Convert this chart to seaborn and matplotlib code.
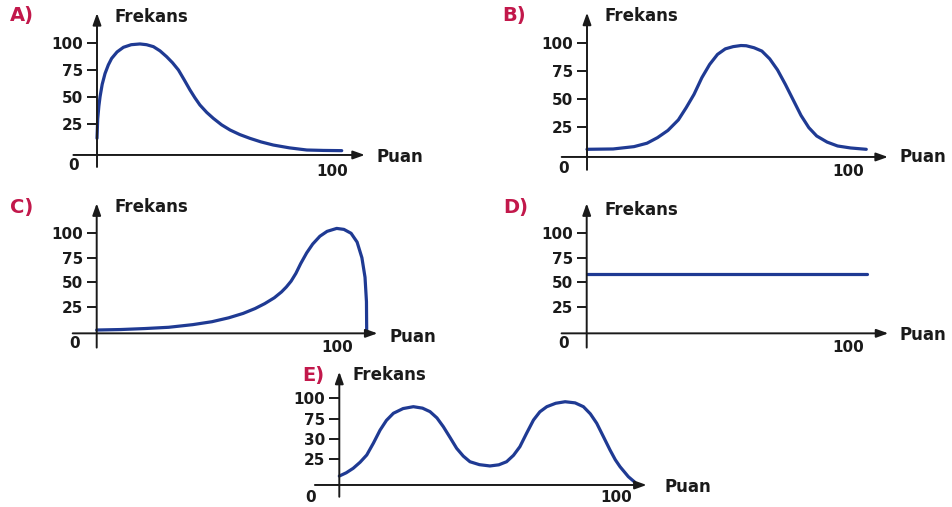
import matplotlib
matplotlib.use('Agg')
import matplotlib.pyplot as plt
import seaborn as sns

sns.set_style('white')
plt.rcParams['font.family'] = ['DejaVu Sans']
plt.rcParams['font.weight'] = 'bold'

# ==========================================
# 数据
# ==========================================
a_x = [0, 0.3, 0.8, 1.3, 2.2, 3.4, 4.8, 6.2, 8.5, 11.2, 14.5, 18.2, 21, 23.9, 26.7,
       29.5, 32, 34.5, 37, 39.4, 41.5, 43.6, 46.5, 49.3, 52.8, 56.4, 60.5, 64.8,
       69.5, 74.7, 81.5, 88.9, 96, 103.7]
a_y = [12, 30, 42, 50.6, 62, 72, 80, 86, 92, 96.3, 98.7, 99.4, 98.7, 96.9, 93,
       87.6, 82, 75.3, 66, 56.8, 49.5, 42.9, 36, 30.5, 24.5, 19.7, 15.5, 12,
       8.7, 5.8, 3.2, 1.2, 0.8, 0.6]

b_x = [0, 10, 18, 23, 27, 31, 35, 38, 41, 44, 47, 50, 53, 56, 59, 61, 64, 67, 70,
       73, 76, 79, 82, 85, 88, 92, 96, 101, 107]
b_y = [4.5, 4.8, 6.9, 10, 15, 21.5, 31, 42, 54, 69, 81, 90, 95, 97, 98, 97.8, 96,
       93, 86, 76, 63, 49, 35, 24, 16.5, 11, 7.5, 5.7, 4.5]

c_x = [0, 10, 20, 30, 40, 48, 55, 61, 66, 70, 74, 77, 79, 81, 83, 85, 87.5, 90, 93,
       96, 100, 103, 106, 108.5, 110.5, 111.8, 112.4, 112.5]
c_y = [1, 1.5, 2.5, 3.8, 6.5, 9.5, 13.5, 18, 23, 28, 34, 40, 45, 51, 59, 69, 80, 89,
       97, 102, 105, 104, 100, 91, 75, 55, 30, -1]

d_x = [0, 107]
d_y = [58, 58]

e_x = [0, 2.5, 5, 7.5, 9.9, 12.3, 14.7, 17, 19.5, 23, 26.7, 30, 32.7, 35.2, 37.5,
       40, 42.3, 44.7, 47.1, 50.5, 54.3, 57.5, 60.3, 62.8, 65.1, 67.5, 70, 72.3,
       74.8, 78, 81.4, 85, 88, 90.5, 92.8, 95.2, 97.6, 99.5, 101.2, 104.2, 106.5]
e_y = [4.5, 8.5, 14, 21.5, 30.4, 45, 61, 73, 81.7, 87.5, 89.8, 88, 83.7, 76, 65.2,
       51.5, 38.6, 29, 22.1, 18.5, 16.9, 18.3, 22.1, 30, 40.6, 57, 73.4, 83.5,
       89.8, 94, 95.9, 94.5, 89.8, 81, 69.4, 53, 36.5, 24.5, 16, 3.7, -3]

y_ticks = [25, 50, 75, 100]
y_labels = ['25', '50', '75', '100']
e_labels = ['25', '30', '75', '100']

LINE = '#1f3a93'
RED = '#c2184b'
INK = '#1a1a1a'

W, H = 953, 507
fig = plt.figure(figsize=(W / 100, H / 100), dpi=100)

# 每个小图的像素布局: 原点x, 100的x, 原点y, 每单位像素, x轴高度, x轴起止, y轴起止
panels = [
    dict(name='A)', x=a_x, y=a_y, labels=y_labels, px0=97, px100=333, py0=151.3, ppu=1.08,
         xa=-3.4, xf=-10, xt=113.5, yf=-14.5, yt=128,
         letter=(10, 16), frek=(115, 17), zero=(74, 166), hund=(332, 172), puan=(377, 157)),
    dict(name='B)', x=b_x, y=b_y, labels=y_labels, px0=587, px100=848, py0=154.3, ppu=1.11,
         xa=-2.4, xf=-9.7, xt=115.3, yf=-14, yt=127.6,
         letter=(502, 16), frek=(605, 16), zero=(564, 169), hund=(848, 172), puan=(900, 157)),
    dict(name='C)', x=c_x, y=c_y, labels=y_labels, px0=96.7, px100=336.7, py0=331, ppu=0.977,
         xa=-2.4, xf=-10, xt=117, yf=-17, yt=130.7,
         letter=(10, 207), frek=(115, 207), zero=(75, 344), hund=(337, 347), puan=(390, 337)),
    dict(name='D)', x=d_x, y=d_y, labels=y_labels, px0=586.7, px100=848.3, py0=331, ppu=0.977,
         xa=-2.4, xf=-9.6, xt=115.3, yf=-17, yt=130.7,
         letter=(503, 208), frek=(605, 210), zero=(564, 344), hund=(848, 347), puan=(900, 335)),
    dict(name='E)', x=e_x, y=e_y, labels=e_labels, px0=339.3, px100=616.7, py0=479.7, ppu=0.813,
         xa=-6.5, xf=-8.8, xt=110.8, yf=-21, yt=132.8,
         letter=(302, 375), frek=(353, 375), zero=(311, 498), hund=(616, 498), puan=(665, 487)),
]

XL, XR, YB, YT = -20, 125, -25, 140

for p in panels:
    sx = (p['px100'] - p['px0']) / 100
    left = p['px0'] + XL * sx
    right = p['px0'] + XR * sx
    top = p['py0'] - YT * p['ppu']
    bottom = p['py0'] - YB * p['ppu']
    ax = fig.add_axes([left / W, 1 - bottom / H, (right - left) / W, (bottom - top) / H])
    ax.set_xlim(XL, XR)
    ax.set_ylim(YB, YT)
    ax.patch.set_alpha(0)

    sns.lineplot(x=p['x'], y=p['y'], ax=ax, color=LINE, linewidth=2.3,
                 sort=False, estimator=None)

    # 坐标轴 (带箭头)
    arrow = dict(arrowstyle='-|>,head_length=0.7,head_width=0.25', color=INK, lw=1.4,
                 shrinkA=0, shrinkB=0)
    ax.annotate('', xy=(0, p['yt']), xytext=(0, p['yf']), arrowprops=arrow, annotation_clip=False)
    ax.annotate('', xy=(p['xt'], p['xa']), xytext=(p['xf'], p['xa']), arrowprops=arrow,
                annotation_clip=False)

    for s in ax.spines.values():
        s.set_visible(False)
    ax.spines['left'].set_position(('data', 0))
    ax.set_yticks(y_ticks)
    ax.set_yticklabels(p['labels'], fontsize=11, fontweight='bold', color=INK)
    ax.tick_params(axis='y', left=True, length=7, width=1.4, color=INK, pad=3)
    ax.set_xticks([])
    ax.set_xlabel('')
    ax.set_ylabel('')

    def put(xy, s, **kw):
        fig.text(xy[0] / W, 1 - xy[1] / H, s, fontweight='bold', **kw)

    put(p['letter'], p['name'], fontsize=14, color=RED, ha='left', va='center')
    put(p['frek'], 'Frekans', fontsize=12, color=INK, ha='left', va='center')
    put(p['zero'], '0', fontsize=11, color=INK, ha='center', va='center')
    put(p['hund'], '100', fontsize=11, color=INK, ha='center', va='center')
    put(p['puan'], 'Puan', fontsize=12, color=INK, ha='left', va='center')

fig.savefig('out.png', dpi=100)
